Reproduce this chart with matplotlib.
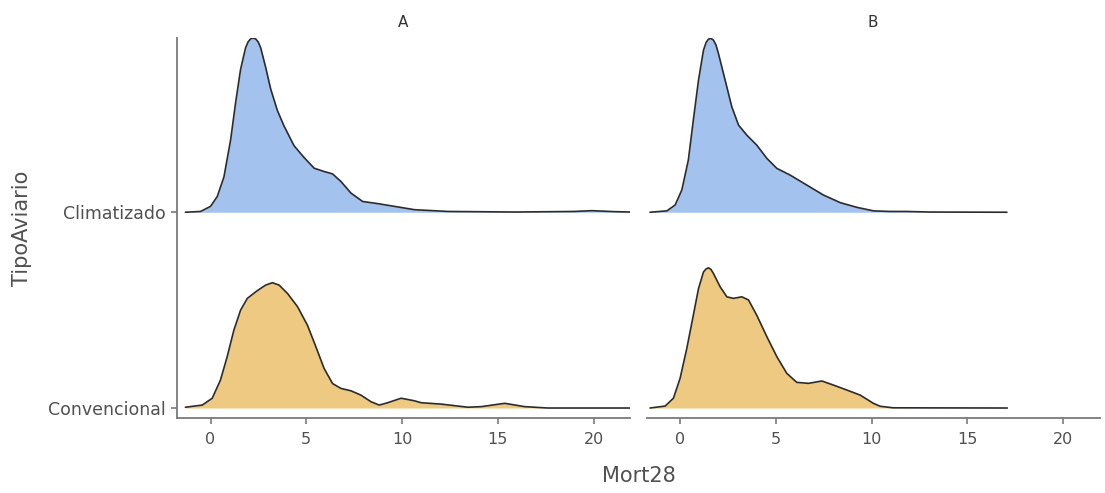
import matplotlib
matplotlib.use("Agg")
import matplotlib.pyplot as plt
import numpy as np

plt.rcParams['font.family'] = ['DejaVu Sans']

facets = ["A", "B"]
categories = ["Convencional", "Climatizado"]
x_ticks = [0, 5, 10, 15, 20]

# Ridge heights (in row units)
a_clim_x = [-1.31, -0.52, 0.0, 0.35, 0.70, 1.05, 1.31, 1.57, 1.83, 1.96, 2.09, 2.22, 2.36, 2.49, 2.62, 2.88,
            3.14, 3.49, 3.84, 4.36, 4.88, 5.41, 5.93, 6.37, 6.81, 7.33, 7.94, 8.73, 9.60,
            10.65, 12.4, 15.9, 19.0, 19.9, 21.1, 21.9]
a_clim_h = [0.0, 0.004, 0.03, 0.08, 0.18, 0.37, 0.56, 0.73, 0.84, 0.87, 0.885, 0.89, 0.885, 0.87, 0.84, 0.74,
            0.63, 0.52, 0.44, 0.34, 0.28, 0.225, 0.208, 0.196, 0.157, 0.098, 0.055, 0.044, 0.030,
            0.013, 0.004, 0.001, 0.004, 0.008, 0.003, 0.001]

a_conv_x = [-1.31, -0.43, 0.09, 0.52, 0.87, 1.22, 1.57, 1.92, 2.45, 2.88, 3.23, 3.58, 4.02,
            4.54, 5.06, 5.50, 5.93, 6.37, 6.81, 7.33, 7.85, 8.38, 8.81, 9.25, 9.95, 10.64,
            11.0, 12.04, 13.44, 14.14, 15.36, 16.4, 17.6, 21.9]
a_conv_h = [0.004, 0.015, 0.05, 0.143, 0.262, 0.398, 0.50, 0.56, 0.60, 0.628, 0.64, 0.628, 0.585,
            0.518, 0.423, 0.313, 0.202, 0.125, 0.10, 0.088, 0.066, 0.032, 0.015, 0.027, 0.05, 0.037,
            0.027, 0.02, 0.004, 0.007, 0.024, 0.007, 0.0, 0.0]

b_clim_x = [-1.57, -0.69, -0.26, 0.09, 0.43, 0.69, 0.96, 1.22, 1.36, 1.48, 1.61, 1.74, 1.87, 2.0, 2.35, 2.70,
            3.05, 3.48, 4.0, 4.53, 5.05, 5.74, 6.61, 7.48, 8.36, 9.23, 10.09, 10.97, 11.8,
            13.05, 17.06]
b_clim_h = [0.0, 0.007, 0.037, 0.114, 0.267, 0.471, 0.675, 0.828, 0.868, 0.884, 0.888, 0.879, 0.855, 0.811,
            0.675, 0.538, 0.445, 0.394, 0.343, 0.275, 0.224, 0.190, 0.139, 0.088, 0.049, 0.025,
            0.007, 0.004, 0.004, 0.001, 0.0]

b_conv_x = [-1.57, -0.78, -0.35, 0.0, 0.35, 0.69, 0.96, 1.22, 1.35, 1.48, 1.61, 1.74, 2.09, 2.44, 2.78,
            3.22, 3.57, 4.0, 4.53, 5.05, 5.57, 6.09, 6.70, 7.40, 8.01, 8.70, 9.40, 10.09,
            10.44, 11.12, 17.08]
b_conv_h = [0.0, 0.01, 0.05, 0.152, 0.305, 0.474, 0.610, 0.695, 0.710, 0.716, 0.708, 0.687, 0.619, 0.568,
            0.560, 0.568, 0.552, 0.474, 0.364, 0.262, 0.177, 0.131, 0.126, 0.138, 0.117, 0.092,
            0.066, 0.024, 0.009, 0.001, 0.0]

data = {
    "A": {"Convencional": (a_conv_x, a_conv_h), "Climatizado": (a_clim_x, a_clim_h)},
    "B": {"Convencional": (b_conv_x, b_conv_h), "Climatizado": (b_clim_x, b_clim_h)},
}
fills = {"Convencional": "#EEC982", "Climatizado": "#A3C2EE"}

W, H = 1105, 493
fig = plt.figure(figsize=(W / 100, H / 100), dpi=100)

xlim = (-1.75, 21.9)
ylim = (-0.051, 1.89)
ax_bottom = 1 - 418 / H
ax_height = (418 - 38) / H
lefts = [177 / W, 646.6 / W]
width = 453 / W

spine_col = "#7a7a7a"
text_col = "#505050"

for i, f in enumerate(facets):
    ax = fig.add_axes([lefts[i], ax_bottom, width, ax_height])
    for j, cat in reversed(list(enumerate(categories))):
        xs, hs = data[f][cat]
        xs = np.array(xs)
        ys = j + np.array(hs)
        ax.fill_between(xs, j, ys, color=fills[cat], lw=0, zorder=2 + (1 - j))
        ax.plot(xs, ys, color="#2b2b2b", lw=1.2, solid_joinstyle="round",
                solid_capstyle="round", zorder=3 + (1 - j))
    ax.set_xlim(*xlim)
    ax.set_ylim(*ylim)
    ax.set_xticks(x_ticks)
    ax.set_xticklabels([str(t) for t in x_ticks])
    for s in ["top", "right"]:
        ax.spines[s].set_visible(False)
    ax.spines["bottom"].set_color(spine_col)
    ax.spines["bottom"].set_linewidth(1.3)
    ax.tick_params(axis="x", colors=spine_col, length=4, width=1.2,
                   labelsize=11.5, labelcolor=text_col, pad=6)
    if i == 0:
        ax.spines["left"].set_color(spine_col)
        ax.spines["left"].set_linewidth(1.3)
        ax.set_yticks([0, 1])
        ax.set_yticklabels(categories)
        ax.tick_params(axis="y", colors=spine_col, length=4, width=1.2,
                       labelsize=12.5, labelcolor=text_col, pad=4)
    else:
        ax.spines["left"].set_visible(False)
        ax.set_yticks([])
    ax.set_title(f, fontsize=11, color="#333333", pad=8)

fig.text((177 + 1100) / 2 / W, 1 - 476 / H, "Mort28", ha="center", va="center",
         fontsize=15, color=text_col)
fig.text(22 / W, 1 - 228 / H, "TipoAviario", ha="center", va="center",
         rotation=90, fontsize=15, color=text_col)

fig.savefig("out.png", dpi=100, facecolor="white")
